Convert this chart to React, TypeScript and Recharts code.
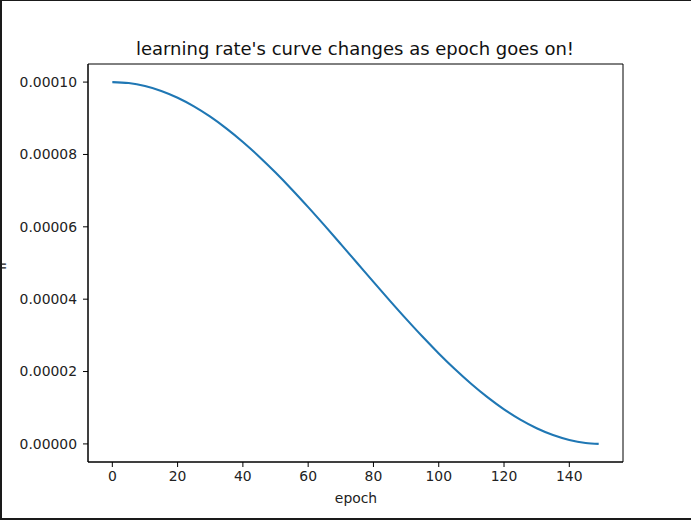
import React from 'react';
import { LineChart, Line, XAxis, YAxis, ReferenceArea } from 'recharts';

const epochs = [0, 5, 10, 15, 20, 25, 30, 35, 40, 45, 50, 55, 60, 65, 70, 75, 80, 85, 90, 95, 100, 105, 110, 115, 120, 125, 130, 135, 140, 145, 149];
const lrValues = [
  0.0001, 0.000099726, 0.000098907, 0.000097553, 0.000095677, 0.000093301, 0.000090451, 0.000087157,
  0.000083457, 0.000079389, 0.000075, 0.000070337, 0.000065451, 0.000060396, 0.000055226, 0.00005,
  0.000044774, 0.000039604, 0.000034549, 0.000029663, 0.000025, 0.000020611, 0.000016543, 0.000012843,
  0.000009549, 0.000006699, 0.000004323, 0.000002447, 0.000001093, 0.000000274, 0.000000011,
];
const xTicks = [0, 20, 40, 60, 80, 100, 120, 140];
const yTicks = [0, 0.00002, 0.00004, 0.00006, 0.00008, 0.0001];
const xDomain: [number, number] = [-7.45, 156.45];
const yDomain: [number, number] = [-0.000005, 0.000105];

const title = "learning rate's curve changes as epoch goes on!";
const xLabel = 'epoch';
const yLabel = 'lr';

const data = epochs.map((epoch, i) => ({ epoch, lr: lrValues[i] }));

const FONT = 'DejaVu Sans, sans-serif';
const W = 691;
const H = 521;

export default function App() {
  return (
    <div style={{ position: 'absolute', left: 0, top: 0, width: W, height: H, background: '#fff', overflow: 'hidden' }}>
      <LineChart
        width={W}
        height={H}
        data={data}
        margin={{ top: 64, right: 68, bottom: 0, left: 0 }}
        style={{ fontFamily: FONT }}
      >
        <XAxis
          dataKey="epoch"
          type="number"
          domain={xDomain}
          ticks={xTicks}
          allowDataOverflow
          height={59}
          stroke="#000"
          tickSize={5}
          tickMargin={4}
          tick={{ fill: '#222', fontSize: 13.9, fontFamily: FONT }}
          tickLine={{ stroke: '#000' }}
          axisLine={{ stroke: '#000', strokeWidth: 1 }}
        />
        <YAxis
          type="number"
          domain={yDomain}
          ticks={yTicks}
          allowDataOverflow
          width={88}
          tickSize={5}
          tickMargin={6}
          tickFormatter={(v: number) => v.toFixed(5)}
          tick={{ fill: '#222', fontSize: 13.9, fontFamily: FONT }}
          tickLine={{ stroke: '#000' }}
          axisLine={{ stroke: '#000', strokeWidth: 1 }}
        />
        {/* full axes box like matplotlib spines */}
        <ReferenceArea
          x1={xDomain[0]}
          x2={xDomain[1]}
          y1={yDomain[0]}
          y2={yDomain[1]}
          fill="none"
          fillOpacity={0}
          stroke="#000"
          strokeWidth={1}
          ifOverflow="visible"
        />
        <Line
          type="monotone"
          dataKey="lr"
          stroke="#1f77b4"
          strokeWidth={2.1}
          dot={false}
          isAnimationActive={false}
        />
        <text x={355} y={55} textAnchor="middle" fontSize={18} fontFamily={FONT} fill="#111">
          {title}
        </text>
        <text x={356} y={503} textAnchor="middle" fontSize={13.9} fontFamily={FONT} fill="#222">
          {xLabel}
        </text>
        <text
          x={6}
          y={265}
          textAnchor="middle"
          fontSize={13.9}
          fontFamily={FONT}
          fill="#222"
          transform="rotate(-90, 6, 265)"
        >
          {yLabel}
        </text>
      </LineChart>
      {/* screenshot frame */}
      <div
        style={{
          position: 'absolute',
          left: 0,
          top: 0,
          width: W,
          height: 520,
          boxSizing: 'border-box',
          borderTop: '1px solid #1a1a1a',
          borderLeft: '2px solid #1a1a1a',
          borderBottom: '2px solid #1a1a1a',
          pointerEvents: 'none',
        }}
      />
    </div>
  );
}
